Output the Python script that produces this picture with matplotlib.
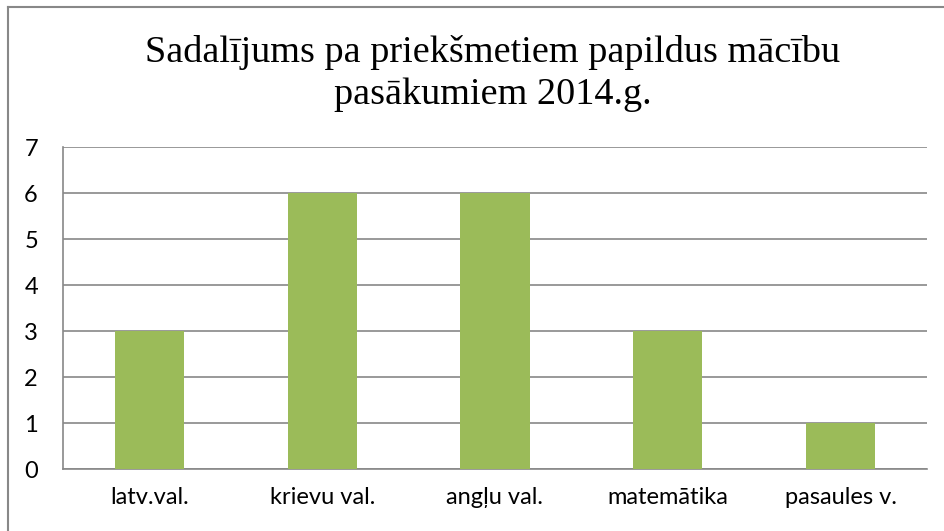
import matplotlib
matplotlib.use('Agg')
import matplotlib.pyplot as plt
from matplotlib.lines import Line2D

categories = ['latv.val.', 'krievu val.', 'angļu val.', 'matemātika', 'pasaules v.']
values = [3, 6, 6, 3, 1]
title_lines = ['Sadalījums pa priekšmetiem papildus mācību', 'pasākumiem 2014.g.']

fig = plt.figure(figsize=(9.45, 5.31), dpi=100)
ax = fig.add_axes([63/945, 1 - 469/531, (927 - 63)/945, (469 - 147)/531])

x = range(len(categories))
ax.bar(x, values, width=0.4, color='#9BBB59', zorder=3)

ax.set_xlim(-0.5, len(categories) - 0.5)
ax.set_ylim(0, 7)
ax.set_yticks(range(0, 8))
ax.set_xticks(list(x))
ax.set_xticklabels(categories)
ax.yaxis.grid(True, color='#888888', linewidth=1.2, zorder=0)
ax.tick_params(length=0, labelsize=17)
ax.tick_params(axis='y', pad=18)
ax.tick_params(axis='x', pad=13)
for lab in ax.get_xticklabels() + ax.get_yticklabels():
    lab.set_family('Lato')
for s in ['top', 'right']:
    ax.spines[s].set_visible(False)
ax.spines['left'].set_color('#888888')
ax.spines['left'].set_linewidth(1.2)
ax.spines['bottom'].set_color('#888888')
ax.spines['bottom'].set_linewidth(1.2)

# title, two lines placed by baseline
fig.text(0.521, 1 - 62/531, title_lines[0], ha='center', va='baseline',
         fontsize=27.5, family='Liberation Serif')
fig.text(0.521, 1 - 104/531, title_lines[1], ha='center', va='baseline',
         fontsize=27.5, family='Liberation Serif')

# chart frame (top and left edges)
fig.add_artist(Line2D([8/945, 1], [1 - 7/531, 1 - 7/531], color='#888888', lw=1.5))
fig.add_artist(Line2D([8/945, 8/945], [0, 1 - 7/531], color='#888888', lw=1.5))

fig.savefig('out.png', dpi=100)
